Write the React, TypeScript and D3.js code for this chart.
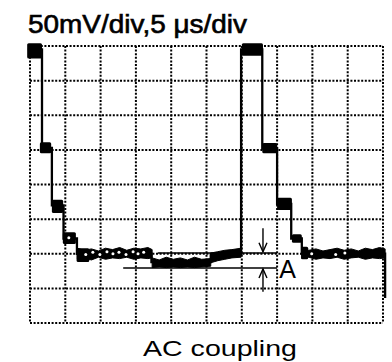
import React from "react";
import * as d3 from "d3";

// Time axis in µs (5 µs/div, 10 div), voltage in mV (50 mV/div, 8 div)
const xTicks = [0, 5, 10, 15, 20, 25, 30, 35, 40, 45, 50];
const yTicks = [-200, -150, -100, -50, 0, 50, 100, 150, 200];

const title = "50mV/div,5 μs/div";
const caption = "AC coupling";
const markLabel = "A";

// Thin trace
const traceT = [-0.3, 1.7, 1.7, 3.1, 3.1, 4.75, 4.75, 6.65, 6.65, 17.2, 17.2, 25.6, 25.6, 29.9, 29.9, 32.9, 32.9, 35.0, 35.0, 37.0, 37.0, 38.5, 38.5, 50.3, 50.3];
const traceV = [195, 195, 53, 53, -30, -30, -78, -78, -100, -100, -112, -112, -101, -101, 195, 195, 52, 52, -28, -28, -78, -78, -100, -100, -164];

// Ringing blobs at step corners
const blobT0 = [-0.4, 1.4, 3.1, 4.65, 6.6, 30.0, 32.9, 35.0, 37.1, 38.4];
const blobT1 = [1.7, 3.0, 4.7, 6.5, 8.4, 33.0, 35.0, 37.1, 38.5, 39.4];
const blobV0 = [182, 45, -41, -86, -112, 186, 45, -37, -84, -108];
const blobV1 = [204, 61, -22, -69, -92, 204, 60, -19, -72, -90];

// Noisy plateau bands
const band1T = [6.7, 7.7, 8.7, 9.7, 10.7, 11.7, 12.7, 13.7, 14.7, 15.7, 16.7, 17.3];
const band1Top = [-92, -95, -93, -96, -92, -94, -91, -95, -92, -93, -91, -94];
const band1Bot = [-108, -106, -109, -105, -108, -106, -107, -105, -108, -106, -107, -106];

const band2T = [17.3, 18.3, 19.3, 20.3, 21.3, 22.3, 23.3, 24.3, 25.6];
const band2Top = [-106, -109, -105, -108, -106, -109, -105, -108, -107];
const band2Bot = [-120, -119, -120, -119, -120, -119, -120, -119, -118];

const band3T = [25.6, 26.6, 27.6, 28.6, 29.9];
const band3Top = [-99, -97, -95, -94, -92];
const band3Bot = [-113, -110, -108, -106, -105];

const band4T = [38.5, 39.5, 40.5, 41.5, 42.5, 43.5, 44.5, 45.5, 46.5, 47.5, 48.5, 49.5, 50.3];
const band4Top = [-92, -95, -93, -96, -94, -92, -95, -93, -96, -92, -94, -91, -93];
const band4Bot = [-107, -105, -108, -106, -107, -105, -108, -106, -105, -108, -106, -107, -106];

// White speckles inside the bands
const holeT = [5.5, 7.9, 8.9, 9.9, 10.9, 11.75, 12.6, 13.6, 14.6, 15.3, 16.1, 39.9, 43.3, 44.6];
const holeV = [-77, -101, -98, -101, -97, -100, -98, -101, -97, -100, -98, -100, -101, -99];

// Measurement annotation "A"
const refLineV = [-99, -120.7];
const refLineT0 = [18.1, 13.2];
const refLineT1 = [35.0, 35.0];
const arrowT = 33.0;
const arrowDown = [-63, -97];
const arrowUp = [-155, -122];
const labelT = 35.3;
const labelV = -135;

export default function App() {
  const W = 392;
  const H = 362;
  const x = d3.scaleLinear().domain([0, 50]).range([30, 383]);
  const y = d3.scaleLinear().domain([-200, 200]).range([323, 46]);

  const line = d3
    .line<number>()
    .x((_, i) => x(traceT[i]))
    .y((d) => y(d));

  const band = (ts: number[], top: number[], bot: number[]) =>
    d3
      .area<number>()
      .x((_, i) => x(ts[i]))
      .y0((_, i) => y(bot[i]))
      .y1((d) => y(d))(top) as string;

  const bands = [
    band(band1T, band1Top, band1Bot),
    band(band2T, band2Top, band2Bot),
    band(band3T, band3Top, band3Bot),
    band(band4T, band4Top, band4Bot),
  ];

  const gridStyle = {
    stroke: "#000",
    strokeWidth: 2,
    strokeDasharray: "2 1.6",
    fill: "none",
  };

  const ah = 4; // arrow head half-width (px)
  const al = 9; // arrow head length (px)
  const ax = x(arrowT);

  return (
    <svg
      width={W}
      height={H}
      style={{ position: "absolute", left: 0, top: 0, background: "#fff" }}
      fontFamily="'Liberation Sans', Arial, sans-serif"
    >
      <rect x={0} y={0} width={W} height={H} fill="#fff" />
      <text
        x={28}
        y={33}
        fontSize={25}
        fill="#000"
        stroke="#000"
        strokeWidth={0.6}
        textLength={219}
        lengthAdjust="spacingAndGlyphs"
      >
        {title}
      </text>

      {/* dotted graticule */}
      <g>
        {xTicks.map((t) => (
          <line key={"vx" + t} x1={x(t)} x2={x(t)} y1={y(200)} y2={y(-200)} style={gridStyle} />
        ))}
        {yTicks.map((v) => (
          <line key={"hy" + v} x1={x(0)} x2={x(50)} y1={y(v)} y2={y(v)} style={gridStyle} />
        ))}
      </g>

      {/* reference lines */}
      {refLineV.map((v, i) => (
        <line
          key={"ref" + i}
          x1={x(refLineT0[i])}
          x2={x(refLineT1[i])}
          y1={y(v)}
          y2={y(v)}
          stroke="#000"
          strokeWidth={1.5}
        />
      ))}

      {/* trace */}
      <path d={line(traceV) as string} fill="none" stroke="#000" strokeWidth={2.3} strokeLinejoin="miter" />
      {bands.map((d, i) => (
        <path key={"band" + i} d={d} fill="#000" stroke="#000" strokeWidth={1} />
      ))}
      {blobT0.map((t, i) => (
        <rect
          key={"blob" + i}
          x={x(t)}
          y={y(blobV1[i])}
          width={x(blobT1[i]) - x(t)}
          height={y(blobV0[i]) - y(blobV1[i])}
          rx={1.5}
          fill="#000"
        />
      ))}
      {holeT.map((t, i) => (
        <circle key={"hole" + i} cx={x(t)} cy={y(holeV[i])} r={1.5} fill="#fff" />
      ))}

      {/* arrows */}
      <g stroke="#000" strokeWidth={1.4} fill="none">
        <line x1={ax} x2={ax} y1={y(arrowDown[0])} y2={y(arrowDown[1])} />
        <polyline
          points={`${ax - ah},${y(arrowDown[1]) - al} ${ax},${y(arrowDown[1])} ${ax + ah},${y(arrowDown[1]) - al}`}
        />
        <line x1={ax} x2={ax} y1={y(arrowUp[0])} y2={y(arrowUp[1])} />
        <polyline
          points={`${ax - ah},${y(arrowUp[1]) + al} ${ax},${y(arrowUp[1])} ${ax + ah},${y(arrowUp[1]) + al}`}
        />
      </g>
      <text x={x(labelT)} y={y(labelV)} fontSize={25} fill="#000">
        {markLabel}
      </text>

      <text
        x={143}
        y={356}
        fontSize={22}
        fill="#000"
        textLength={154}
        lengthAdjust="spacingAndGlyphs"
      >
        {caption}
      </text>
    </svg>
  );
}
